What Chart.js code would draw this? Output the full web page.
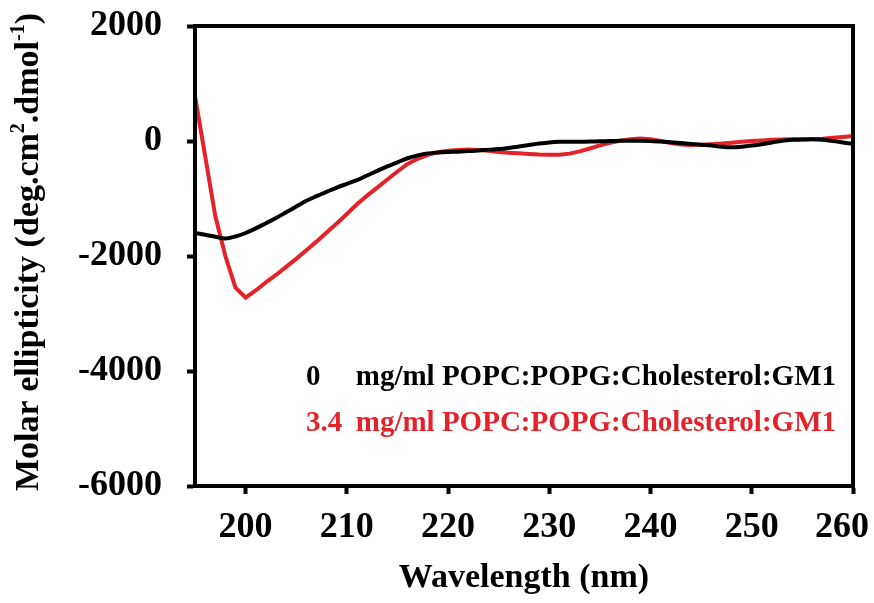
<!DOCTYPE html>
<html>
<head>
<meta charset="UTF-8">
<title>CD spectra</title>
<script src="https://cdn.jsdelivr.net/npm/chart.js"></script>
<style>
  html, body { margin: 0; padding: 0; background: #fff; }
  #wrap { width: 874px; height: 603px; position: relative; }
</style>
</head>
<body>
<div id="wrap"><canvas id="cdChart"></canvas></div>
<script>
// wavelength (nm), 1 nm steps
const wavelengths = [195, 196, 197, 198, 199, 200, 201, 202, 203, 204, 205, 206, 207, 208, 209, 210,
  211, 212, 213, 214, 215, 216, 217, 218, 219, 220, 221, 222, 223, 224, 225, 226, 227, 228, 229, 230,
  231, 232, 233, 234, 235, 236, 237, 238, 239, 240, 241, 242, 243, 244, 245, 246, 247, 248, 249, 250,
  251, 252, 253, 254, 255, 256, 257, 258, 259, 260];

// 0 mg/ml lipid (black)
const noLipid = [-1600, -1630, -1665, -1695, -1660, -1600, -1520, -1430, -1340, -1240, -1140, -1040, -960, -885, -810, -745,
  -680, -600, -520, -440, -370, -300, -250, -215, -200, -190, -185, -175, -165, -150, -140, -120, -95, -70, -45, -25,
  -15, -12, -12, -10, -5, 0, 3, 5, 5, 0, -10, -20, -35, -50, -65, -80, -100, -110, -100, -80,
  -55, -25, 5, 20, 25, 30, 20, 0, -25, -50];

// 3.4 mg/ml lipid (red)
const withLipid = [780, -260, -1300, -2000, -2550, -2725, -2600, -2460, -2330, -2190, -2050, -1900, -1750, -1590, -1435, -1270,
  -1100, -950, -810, -670, -530, -400, -310, -240, -195, -170, -155, -150, -155, -170, -190, -205, -215, -225, -235, -240,
  -240, -220, -180, -130, -75, -30, 5, 30, 45, 30, 0, -35, -60, -70, -65, -55, -45, -30, -15, 0,
  10, 20, 28, 30, 30, 30, 40, 55, 70, 85];

const seriesLabels = ['0 mg/ml POPC:POPG:Cholesterol:GM1', '3.4 mg/ml POPC:POPG:Cholesterol:GM1'];
const seriesColors = ['#000000', '#e3222a'];

const xTicks = [200, 210, 220, 230, 240, 250, 260];
const yTicks = [2000, 0, -2000, -4000, -6000];

const FONT = "'Liberation Serif', 'Times New Roman', serif";

function points(ys) {
  return wavelengths.map((w, i) => ({ x: w, y: ys[i] }));
}

// box around the plot area
const framePlugin = {
  id: 'frame',
  afterDatasetsDraw(chart) {
    const { ctx, chartArea: a } = chart;
    ctx.save();
    ctx.strokeStyle = '#000';
    ctx.lineWidth = 4;
    ctx.strokeRect(a.left, a.top, a.right - a.left, a.bottom - a.top);
    ctx.restore();
  }
};

// x tick labels, axis titles and the text legend
const textPlugin = {
  id: 'texts',
  afterDraw(chart) {
    const ctx = chart.ctx;
    const xs = chart.scales.x;
    const a = chart.chartArea;
    ctx.save();
    ctx.fillStyle = '#000';
    ctx.textBaseline = 'middle';

    // x tick labels (kept inside the canvas at the right edge)
    ctx.font = 'bold 36px ' + FONT;
    ctx.textAlign = 'center';
    xTicks.forEach(v => {
      const s = String(v);
      const w = ctx.measureText(s).width;
      const px = Math.min(xs.getPixelForValue(v), chart.width - w / 2 - 5);
      ctx.fillText(s, px, 528);
    });

    // x title
    ctx.font = 'bold 34px ' + FONT;
    ctx.fillText('Wavelength (nm)', (a.left + a.right) / 2, 578);

    // y title with superscripts
    const parts = [
      ['Molar ellipticity (deg.cm', false],
      ['2', true],
      ['.dmol', false],
      ['-1', true],
      [')', false]
    ];
    const big = 'bold 34px ' + FONT, small = 'bold 20px ' + FONT;
    let total = 0;
    parts.forEach(p => { ctx.font = p[1] ? small : big; total += ctx.measureText(p[0]).width; });
    ctx.translate(29, (a.top + a.bottom) / 2 - 4);
    ctx.rotate(-Math.PI / 2);
    ctx.textAlign = 'left';
    let cx = -total / 2;
    parts.forEach(p => {
      ctx.font = p[1] ? small : big;
      ctx.fillText(p[0], cx, p[1] ? -10 : 0);
      cx += ctx.measureText(p[0]).width;
    });
    ctx.setTransform(1, 0, 0, 1, 0, 0);

    // legend text
    ctx.font = 'bold 29px ' + FONT;
    chart.data.datasets.forEach((ds, i) => {
      const y = 378 + i * 46;
      const cut = ds.label.indexOf(' ');
      ctx.fillStyle = ds.borderColor;
      ctx.textAlign = 'left';
      ctx.fillText(ds.label.slice(0, cut), 306, y);
      ctx.textAlign = 'right';
      ctx.fillText(ds.label.slice(cut + 1), 836, y);
    });
    ctx.restore();
  }
};

new Chart(document.getElementById('cdChart'), {
  type: 'line',
  data: {
    datasets: [
      { label: seriesLabels[0], data: points(noLipid), borderColor: seriesColors[0], borderWidth: 4, pointRadius: 0, tension: 0.3, fill: false },
      { label: seriesLabels[1], data: points(withLipid), borderColor: seriesColors[1], borderWidth: 4, pointRadius: 0, tension: 0, fill: false }
    ]
  },
  options: {
    responsive: true,
    maintainAspectRatio: false,
    animation: false,
    layout: { padding: { top: 26, right: 21, left: 0, bottom: 0 } },
    plugins: { legend: { display: false }, tooltip: { enabled: false } },
    scales: {
      x: {
        type: 'linear',
        min: 195,
        max: 260,
        afterBuildTicks: s => { s.ticks = xTicks.map(v => ({ value: v })); },
        afterFit: s => { s.height = 117; s.paddingLeft = 0; s.paddingRight = 0; },
        grid: { drawOnChartArea: false, drawTicks: true, tickLength: 8, tickWidth: 4, tickColor: '#000' },
        border: { display: true, color: '#000', width: 4 },
        ticks: { display: false }
      },
      y: {
        min: -6000,
        max: 2000,
        afterBuildTicks: s => { s.ticks = yTicks.map(v => ({ value: v })); },
        afterFit: s => { s.width = 195; s.paddingTop = 0; s.paddingBottom = 0; },
        grid: { drawOnChartArea: false, drawTicks: true, tickLength: 8, tickWidth: 4, tickColor: '#000' },
        border: { display: true, color: '#000', width: 4 },
        ticks: {
          color: '#000',
          padding: 25,
          callback: v => String(v),
          font: { family: FONT, size: 36, weight: 'bold' }
        }
      }
    }
  },
  plugins: [framePlugin, textPlugin]
});
</script>
</body>
</html>
